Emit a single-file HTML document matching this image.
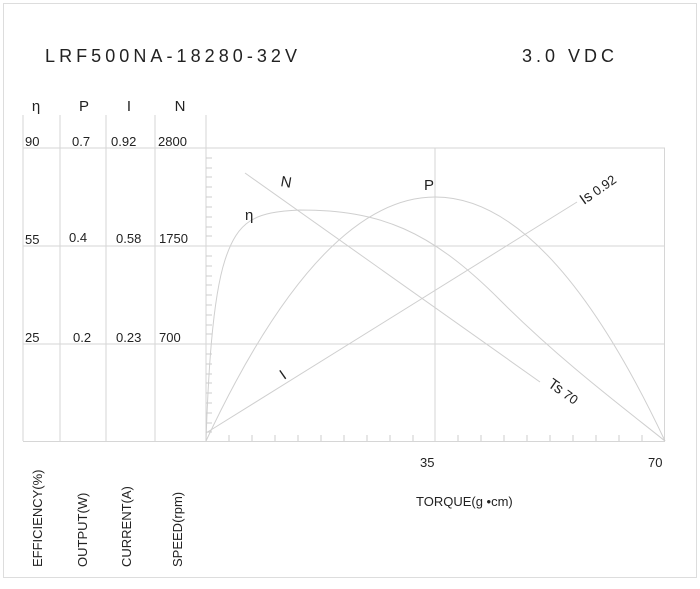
<!DOCTYPE html>
<html><head><style>
body{margin:0;background:#fff}
svg text{font-family:"Liberation Sans","DejaVu Sans",sans-serif;fill:#222}
</style></head><body>
<svg width="700" height="584" viewBox="0 0 700 584" xmlns="http://www.w3.org/2000/svg">
<rect x="3.5" y="3.5" width="693" height="574" fill="none" stroke="#ddd"/>
<g stroke="#d6d6d6" stroke-width="1" fill="none">
<line x1="23" y1="148" x2="665" y2="148"/>
<line x1="23" y1="246" x2="665" y2="246"/>
<line x1="23" y1="344" x2="665" y2="344"/>
<line x1="23" y1="441.5" x2="665" y2="441.5"/>
<line x1="23" y1="115" x2="23" y2="441"/>
<line x1="60" y1="115" x2="60" y2="441"/>
<line x1="106" y1="115" x2="106" y2="441"/>
<line x1="155" y1="115" x2="155" y2="441"/>
<line x1="206" y1="115" x2="206" y2="441"/>
<line x1="435" y1="148" x2="435" y2="441"/>
<line x1="664.5" y1="148" x2="664.5" y2="441"/>
</g>
<g stroke="#ccc">
<path d="M206 158h6M206 168h6M206 177h6M206 187h6M206 197h6M206 207h6M206 217h6M206 227h6M206 236h6M206 256h6M206 266h6M206 276h6M206 285h6M206 295h6M206 305h6M206 315h6M206 325h6M206 334h6M206 354h6M206 364h6M206 374h6M206 383h6M206 393h6M206 403h6M206 413h6M206 423h6M206 432h6"/>
<path d="M229 441v-6M252 441v-6M275 441v-6M298 441v-6M321 441v-6M344 441v-6M367 441v-6M390 441v-6M413 441v-6M458 441v-6M481 441v-6M504 441v-6M527 441v-6M550 441v-6M573 441v-6M596 441v-6M619 441v-6M642 441v-6"/>
</g>
<g stroke="#cfcfcf" fill="none" stroke-width="1">
<line x1="245" y1="173" x2="540" y2="382"/>
<line x1="206" y1="433" x2="577" y2="202"/>
<path d="M206 441 Q435 -47 665 441"/>
<path d="M206 441 C208 380 212 300 225 260 C238 220 255 212 300 210 C380 210 430 230 500 300 C560 360 620 405 665 441"/>
</g>
<text x="45" y="62" font-size="18" textLength="252">LRF500NA-18280-32V</text>
<text x="522" y="62" font-size="18" textLength="92">3.0  VDC</text>
<g font-size="15" text-anchor="middle">
<text x="36" y="111">η</text><text x="84" y="111">P</text><text x="129" y="111">I</text><text x="180" y="111">N</text>
</g>
<g font-size="13">
<text x="25" y="146">90</text><text x="72" y="146">0.7</text><text x="111" y="146">0.92</text><text x="158" y="146">2800</text>
<text x="25" y="244">55</text><text x="69" y="242">0.4</text><text x="116" y="243">0.58</text><text x="159" y="243">1750</text>
<text x="25" y="342">25</text><text x="73" y="342">0.2</text><text x="116" y="342">0.23</text><text x="159" y="342">700</text>
<text x="420" y="467">35</text><text x="648" y="467">70</text>
<text x="416" y="506">TORQUE(g •cm)</text>
</g>
<g font-size="15">
<text x="280" y="186" transform="rotate(10 280 186)">N</text>
<text x="245" y="220">η</text>
<text x="424" y="190">P</text>
<text x="284" y="380" transform="rotate(-35 284 380)">I</text>
<text x="584" y="205" transform="rotate(-35 584 205)">Is<tspan font-size="13"> 0.92</tspan></text>
<text x="547" y="386" transform="rotate(35 547 386)">Ts<tspan font-size="13"> 70</tspan></text>
</g>
<g font-size="13">
<text transform="translate(42 567) rotate(-90)">EFFICIENCY(%)</text>
<text transform="translate(87 567) rotate(-90)">OUTPUT(W)</text>
<text transform="translate(131 567) rotate(-90)">CURRENT(A)</text>
<text transform="translate(182 567) rotate(-90)">SPEED(rpm)</text>
</g>
</svg>
</body></html>
